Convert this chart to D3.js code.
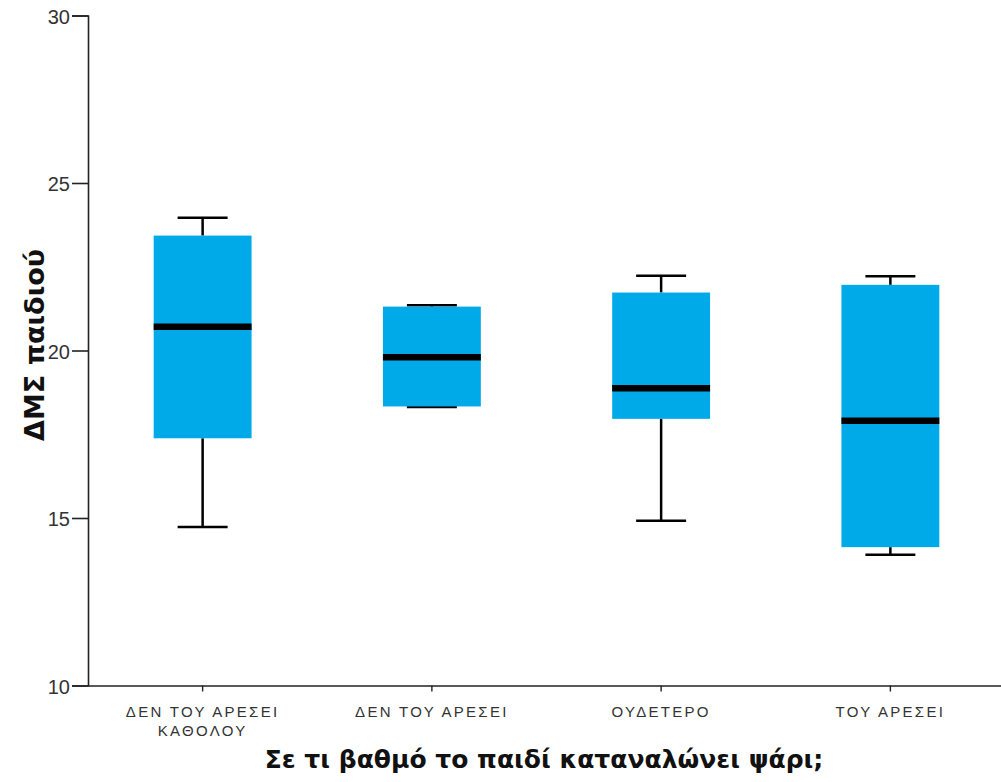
<!DOCTYPE html>
<html>
<head>
<meta charset="utf-8">
<script src="https://cdn.jsdelivr.net/npm/d3@7"></script>
<style>
  html, body { margin: 0; padding: 0; background: #fff; }
  svg { display: block; font-family: "Liberation Sans", Arial, sans-serif; }
</style>
</head>
<body>
<svg id="chart" width="1001" height="782"></svg>
<script>
// Categories on the x axis (line breaks separated by "\n")
const categories = ["ΔΕΝ ΤΟΥ ΑΡΕΣΕΙ\nΚΑΘΟΛΟΥ", "ΔΕΝ ΤΟΥ ΑΡΕΣΕΙ", "ΟΥΔΕΤΕΡΟ", "ΤΟΥ ΑΡΕΣΕΙ"];
// Five-number summaries for each category
const whiskerLow  = [14.73, 18.31, 14.92, 13.90];
const q1          = [17.38, 18.33, 17.96, 14.13];
const median      = [20.71, 19.80, 18.87, 17.90];
const q3          = [23.43, 21.31, 21.73, 21.96];
const whiskerHigh = [23.96, 21.35, 22.23, 22.22];
const yTicks = [10, 15, 20, 25, 30];

const svg = d3.select("#chart");
const plotLeft = 88, plotTop = 15.5, plotBottom = 685.5, plotRight = 1005;

const x = d3.scaleBand().domain(categories).range([plotLeft, plotRight]).paddingInner(0).paddingOuter(0);
const y = d3.scaleLinear().domain([10, 30]).range([plotBottom, plotTop]);

const boxW = x.bandwidth() * 0.427;
const capW = x.bandwidth() * 0.218;

const data = categories.map((c, i) => ({
  c, lo: whiskerLow[i], q1: q1[i], med: median[i], q3: q3[i], hi: whiskerHigh[i]
}));

const g = svg.append("g");
const box = g.selectAll("g.box").data(data).join("g").attr("class", "box")
  .attr("transform", d => `translate(${x(d.c) + x.bandwidth() / 2},0)`);

// whisker stems
box.append("line").attr("x1", 0).attr("x2", 0)
  .attr("y1", d => y(d.hi)).attr("y2", d => y(d.q3))
  .attr("stroke", "#000").attr("stroke-width", 2.5);
box.append("line").attr("x1", 0).attr("x2", 0)
  .attr("y1", d => y(d.q1)).attr("y2", d => y(d.lo))
  .attr("stroke", "#000").attr("stroke-width", 2.5);
// whisker caps
box.append("line").attr("x1", -capW / 2).attr("x2", capW / 2)
  .attr("y1", d => y(d.hi)).attr("y2", d => y(d.hi))
  .attr("stroke", "#000").attr("stroke-width", 2.5);
box.append("line").attr("x1", -capW / 2).attr("x2", capW / 2)
  .attr("y1", d => y(d.lo)).attr("y2", d => y(d.lo))
  .attr("stroke", "#000").attr("stroke-width", 2.5);
// boxes
box.append("rect")
  .attr("x", -boxW / 2).attr("width", boxW)
  .attr("y", d => y(d.q3)).attr("height", d => y(d.q1) - y(d.q3))
  .attr("fill", "#00AAE8");
// medians
box.append("line").attr("x1", -boxW / 2).attr("x2", boxW / 2)
  .attr("y1", d => y(d.med)).attr("y2", d => y(d.med))
  .attr("stroke", "#000").attr("stroke-width", 6.5);

// y axis
const yAxis = svg.append("g").attr("transform", `translate(${plotLeft},0)`)
  .call(d3.axisLeft(y).tickValues(yTicks).tickSize(16).tickPadding(2).tickFormat(d3.format("d")));
yAxis.select(".domain").attr("stroke", "#222").attr("stroke-width", 1.6);
yAxis.selectAll(".tick line").attr("stroke", "#222").attr("stroke-width", 1.6);
yAxis.selectAll(".tick text").attr("font-size", 20).attr("fill", "#333")
  .attr("dy", "0.38em")
  .attr("font-family", "'Liberation Sans', Arial, sans-serif");

// x axis
const xAxis = svg.append("g").attr("transform", `translate(0,${plotBottom})`)
  .call(d3.axisBottom(x).tickSize(6).tickSizeOuter(0).tickFormat(""));
xAxis.select(".domain").attr("stroke", "#222").attr("stroke-width", 1.6);
xAxis.selectAll(".tick line").attr("stroke", "#222").attr("stroke-width", 1.4);
xAxis.selectAll(".tick").each(function (d) {
  const lines = d.split("\n");
  const t = d3.select(this).append("text")
    .attr("text-anchor", "middle").attr("fill", "#333")
    .attr("font-size", 15).attr("letter-spacing", "2.3px")
    .attr("font-family", "'Liberation Sans', Arial, sans-serif");
  lines.forEach((ln, i) => {
    t.append("tspan").attr("x", 0).attr("y", 31 + i * 19).text(ln);
  });
});

// axis titles
svg.append("text")
  .attr("x", 544).attr("y", 768)
  .attr("text-anchor", "middle")
  .attr("font-size", 25).attr("font-weight", "bold").attr("fill", "#111")
  .attr("font-family", "'DejaVu Sans', 'Liberation Sans', sans-serif")
  .text("Σε τι βαθμό το παιδί καταναλώνει ψάρι;");

svg.append("text")
  .attr("transform", "translate(44,345) rotate(-90)")
  .attr("text-anchor", "middle")
  .attr("font-size", 27).attr("font-weight", "bold").attr("fill", "#111")
  .attr("font-family", "'DejaVu Sans', 'Liberation Sans', sans-serif")
  .text("ΔΜΣ παιδιού");
</script>
</body>
</html>
